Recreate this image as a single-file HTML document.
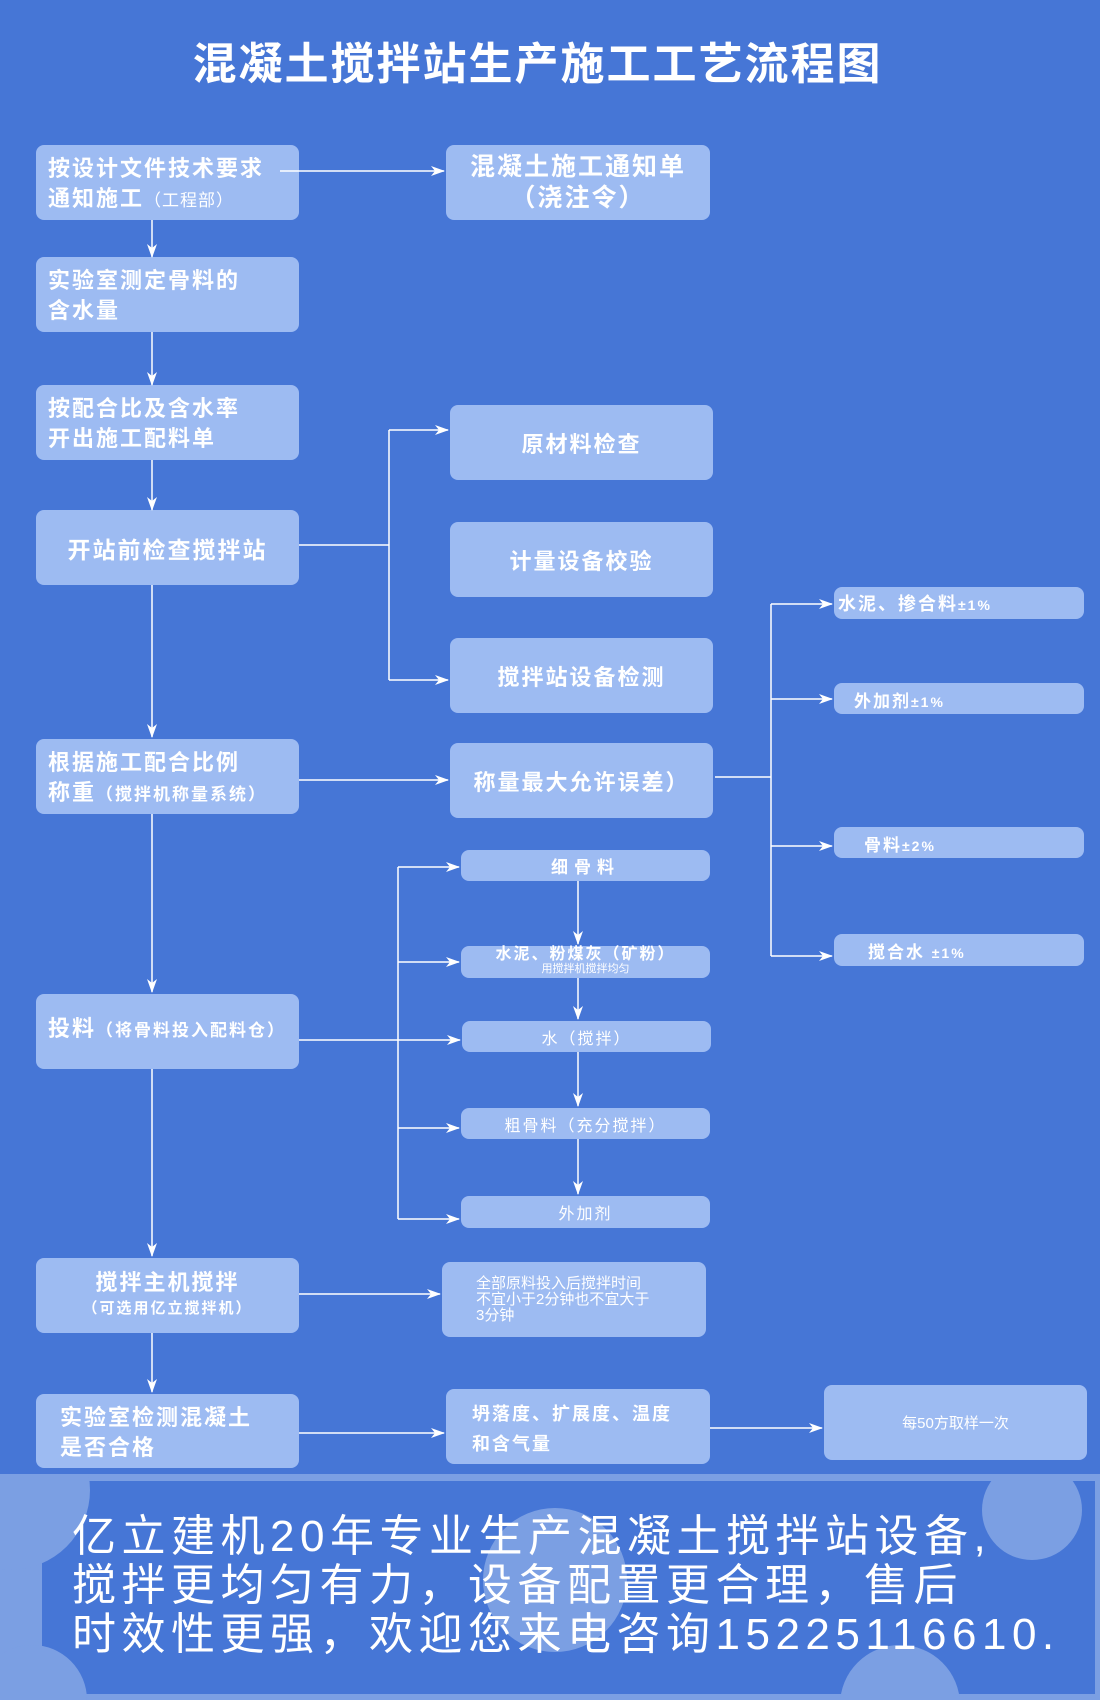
<!DOCTYPE html>
<html><head><meta charset="utf-8"><style>
body{margin:0;width:1100px;height:1700px;overflow:hidden;background:#4676d6;position:relative;font-family:"Liberation Sans","Noto Sans CJK SC",sans-serif;color:#fff}
.b{position:absolute;background:#9dbbf2;border-radius:8px;box-sizing:border-box;font-weight:bold;letter-spacing:2px}
.c{display:flex;align-items:center;justify-content:center;text-align:center}
.s{font-size:13px;font-weight:normal;letter-spacing:1px}
svg{position:absolute;left:0;top:0}
</style></head><body>
<div style="position:absolute;left:0;top:28px;width:1075px;text-align:center;font-size:44px;font-weight:bold;letter-spacing:2px">混凝土搅拌站生产施工工艺流程图</div>

<div class="b" style="left:36px;top:145px;width:263px;height:75px;padding:9px 12px;font-size:22px;line-height:30px">按设计文件技术要求<br>通知施工<span class="s" style="font-size:17px">（工程部）</span></div>
<div class="b c" style="left:446px;top:145px;width:264px;height:75px;font-size:25px;line-height:31px">混凝土施工通知单<br>（浇注令）</div>
<div class="b" style="left:36px;top:257px;width:263px;height:75px;padding:9px 12px;font-size:22px;line-height:30px">实验室测定骨料的<br>含水量</div>
<div class="b" style="left:36px;top:385px;width:263px;height:75px;padding:9px 12px;font-size:22px;line-height:30px">按配合比及含水率<br>开出施工配料单</div>
<div class="b c" style="left:36px;top:510px;width:263px;height:75px;font-size:23px">开站前检查搅拌站</div>
<div class="b" style="left:36px;top:739px;width:263px;height:75px;padding:9px 12px;font-size:22px;line-height:30px">根据施工配合比例<br>称重<span style="font-size:17px">（搅拌机称量系统）</span></div>
<div class="b" style="left:36px;top:994px;width:263px;height:75px;padding:20px 12px;font-size:22px;line-height:30px">投料<span style="font-size:17px">（将骨料投入配料仓）</span></div>
<div class="b c" style="left:36px;top:1258px;width:263px;height:75px;font-size:22px;line-height:26px;flex-direction:column">搅拌主机搅拌<span style="font-size:15px">（可选用亿立搅拌机）</span></div>
<div class="b" style="left:36px;top:1394px;width:263px;height:74px;padding:9px 24px;font-size:22px;line-height:30px">实验室检测混凝土<br>是否合格</div>

<div class="b c" style="left:450px;top:405px;width:263px;height:75px;font-size:22px">原材料检查</div>
<div class="b c" style="left:450px;top:522px;width:263px;height:75px;font-size:22px">计量设备校验</div>
<div class="b c" style="left:450px;top:638px;width:263px;height:75px;font-size:22px">搅拌站设备检测</div>
<div class="b c" style="left:450px;top:743px;width:263px;height:75px;font-size:22px">称量最大允许误差）</div>

<div class="b c" style="left:461px;top:850px;width:249px;height:31px;font-size:17px;letter-spacing:6px">细骨料</div>
<div class="b c" style="left:461px;top:946px;width:249px;height:32px;font-size:16px;line-height:14px;flex-direction:column">水泥、粉煤灰（矿粉）<span style="font-size:11px;font-weight:normal;letter-spacing:0">用搅拌机搅拌均匀</span></div>
<div class="b c" style="left:462px;top:1021px;width:249px;height:31px;font-size:16px;font-weight:normal">水（搅拌）</div>
<div class="b c" style="left:461px;top:1108px;width:249px;height:31px;font-size:16px;font-weight:normal">粗骨料（充分搅拌）</div>
<div class="b c" style="left:461px;top:1196px;width:249px;height:32px;font-size:16px;font-weight:normal">外加剂</div>

<div class="b" style="left:442px;top:1262px;width:264px;height:75px;padding:14px 34px;font-size:15px;line-height:16px;font-weight:normal;letter-spacing:0">全部原料投入后搅拌时间<br>不宜小于2分钟也不宜大于<br>3分钟</div>
<div class="b" style="left:446px;top:1389px;width:264px;height:75px;padding:10px 26px;font-size:18px;line-height:30px">坍落度、扩展度、温度<br>和含气量</div>
<div class="b c" style="left:824px;top:1385px;width:263px;height:75px;font-size:15px;font-weight:normal;letter-spacing:0">每50方取样一次</div>

<div class="b" style="left:834px;top:587px;width:250px;height:32px;padding:3px 4px;font-size:18px">水泥、掺合料<span style="font-size:14px">±1%</span></div>
<div class="b" style="left:834px;top:683px;width:250px;height:31px;padding:4px 20px;font-size:17px">外加剂<span style="font-size:14px">±1%</span></div>
<div class="b" style="left:834px;top:827px;width:250px;height:31px;padding:4px 30px;font-size:17px">骨料<span style="font-size:14px">±2%</span></div>
<div class="b" style="left:834px;top:934px;width:250px;height:32px;padding:4px 34px;font-size:17px">搅合水 <span style="font-size:14px">±1%</span></div>

<svg width="1100" height="1700">
<defs><marker id="a" markerWidth="14" markerHeight="10" refX="13" refY="5" orient="auto" markerUnits="userSpaceOnUse"><path d="M0,0 L14,5 L0,10 L4,5z" fill="#fff"/></marker>
<clipPath id="cp"><rect x="0" y="1474" width="1100" height="226"/></clipPath></defs>
<g stroke="#fff" stroke-width="1.5" fill="none">
<path d="M152 220V257" marker-end="url(#a)"/>
<path d="M152 332V385" marker-end="url(#a)"/>
<path d="M152 460V510" marker-end="url(#a)"/>
<path d="M152 585V737" marker-end="url(#a)"/>
<path d="M152 814V992" marker-end="url(#a)"/>
<path d="M152 1069V1256" marker-end="url(#a)"/>
<path d="M152 1333V1392" marker-end="url(#a)"/>
<path d="M280 171H444" marker-end="url(#a)"/>
<path d="M299 545H389"/><path d="M389 430V680"/>
<path d="M389 430H448" marker-end="url(#a)"/><path d="M389 680H448" marker-end="url(#a)"/>
<path d="M299 780H448" marker-end="url(#a)"/>
<path d="M715 777H771"/><path d="M771 604V956"/>
<path d="M771 604H832" marker-end="url(#a)"/><path d="M771 699H832" marker-end="url(#a)"/>
<path d="M771 846H832" marker-end="url(#a)"/><path d="M771 956H832" marker-end="url(#a)"/>
<path d="M299 1040H398"/><path d="M398 867V1219"/>
<path d="M398 867H459" marker-end="url(#a)"/><path d="M398 962H459" marker-end="url(#a)"/>
<path d="M398 1040H460" marker-end="url(#a)"/><path d="M398 1128H459" marker-end="url(#a)"/>
<path d="M398 1219H459" marker-end="url(#a)"/>
<path d="M578 881V944" marker-end="url(#a)"/><path d="M578 978V1019" marker-end="url(#a)"/>
<path d="M578 1052V1106" marker-end="url(#a)"/><path d="M578 1139V1194" marker-end="url(#a)"/>
<path d="M299 1294H440" marker-end="url(#a)"/>
<path d="M299 1433H444" marker-end="url(#a)"/>
<path d="M710 1428H822" marker-end="url(#a)"/>
</g>
<rect x="0" y="1474" width="1100" height="226" fill="#7b9fe3"/>
<rect x="42" y="1481" width="1053" height="213" fill="#4676d6"/>
<g fill="#7b9fe3" clip-path="url(#cp)">
<circle cx="10" cy="1490" r="80"/>
<circle cx="32" cy="1700" r="55"/>
<circle cx="1032" cy="1510" r="50"/>
<circle cx="555" cy="1580" r="72"/>
<circle cx="900" cy="1705" r="60"/>
</g>
</svg>
<div style="position:absolute;left:72px;top:1512px;font-size:44px;line-height:49px;letter-spacing:5.5px;z-index:2">亿立建机20年专业生产混凝土搅拌站设备,<br>搅拌更均匀有力，设备配置更合理，售后<br>时效性更强，欢迎您来电咨询15225116610.</div>
</body></html>
